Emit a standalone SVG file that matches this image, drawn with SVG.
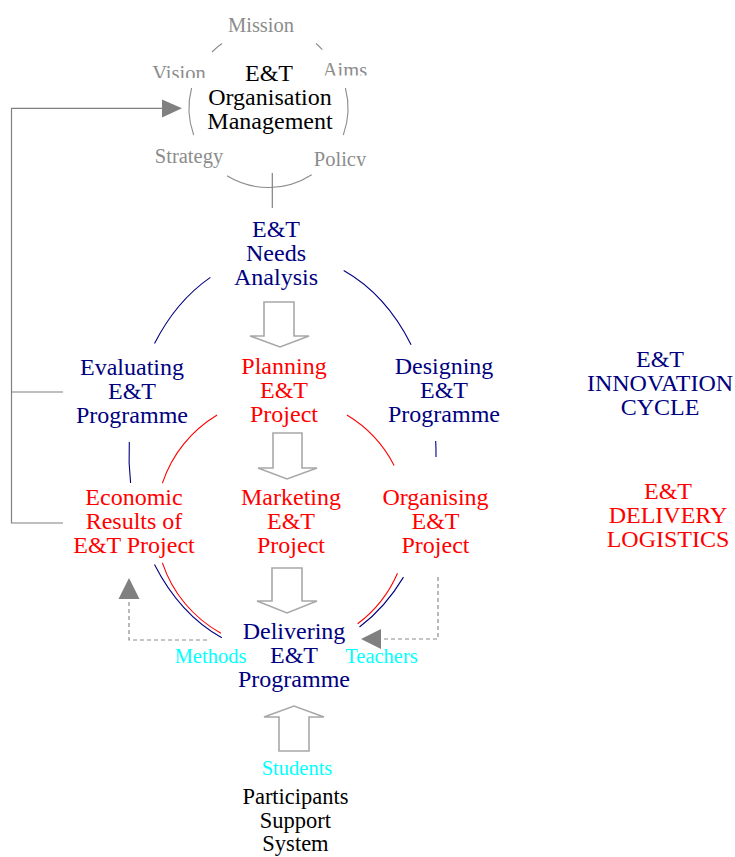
<svg xmlns="http://www.w3.org/2000/svg" width="735" height="857" viewBox="0 0 735 857" font-family="'Liberation Serif', 'Times New Roman', 'DejaVu Serif', serif">
<style>
text{text-anchor:middle}
.m{font-size:24px}
.p{font-size:22.5px}
.navy{fill:#000080}
.red{fill:#ff0000}
.blk{fill:#000000}
.g{font-size:20.5px;fill:#8c8c8c}
.c{font-size:20.5px;fill:#00ffff}
.ln{fill:none;stroke:#808080;stroke-width:1.2}
.dash{fill:none;stroke:#8c8c8c;stroke-width:1.2;stroke-dasharray:4,3}
.ah{fill:#808080}
.nv{fill:none;stroke:#000080;stroke-width:1.1}
.rd{fill:none;stroke:#ff0000;stroke-width:1.1}
.ga{fill:none;stroke:#8c8c8c;stroke-width:1.1}
.blkarr{fill:#ffffff;stroke:#a8a8a8;stroke-width:1.6}
</style>
<defs>
<clipPath id="cv"><rect x="140" y="50" width="80" height="28"/></clipPath>
<clipPath id="ca"><rect x="315" y="50" width="60" height="25.5"/></clipPath>
<clipPath id="cp"><rect x="305" y="140" width="70" height="26"/></clipPath>
</defs>

<g id="connectors">
<path class="ga" d="M212,52 A79.5,79.5 0 0,1 222,43.5"/>
<path class="ga" d="M316,43.5 A79.5,79.5 0 0,1 322.3,49.6"/>
<path class="ga" d="M193.7,135 A79.5,79.5 0 0,1 191.6,88"/>
<path class="ga" d="M345.4,88 A79.5,79.5 0 0,1 343.3,135"/>
<path class="ga" d="M227,175.8 A79.5,79.5 0 0,0 311.7,174.7"/>
<line class="ln" x1="272.3" y1="173" x2="272.3" y2="208"/>
<polyline class="ln" points="63,523 11.5,523 11.5,108.3 164,108.3"/>
<line class="ln" x1="11.5" y1="392" x2="63" y2="392"/>
<polygon class="ah" points="162,99.5 182,108.3 162,117.5"/>
<path class="nv" d="M154.5,343.6 A153.5,200 0 0,1 210.4,277.4"/>
<path class="nv" d="M343.7,270.6 A153.5,200 0 0,1 411.1,344.8"/>
<path class="nv" d="M130.6,483 A153.5,200 0 0,1 129.3,442"/>
<path class="nv" d="M435.7,441 A153.5,200 0 0,1 436,457"/>
<path class="nv" d="M221.8,637.7 A153.5,200 0 0,1 154.5,564.4"/>
<path class="nv" d="M403.5,577.1 A153.5,200 0 0,1 359.5,627"/>
<path class="rd" d="M162.4,483.2 A126,126 0 0,1 217.1,415"/>
<path class="rd" d="M346.9,415 A126,126 0 0,1 394.1,465.4"/>
<path class="rd" d="M220.9,633.2 A126,126 0 0,1 162.4,562.8"/>
<path class="rd" d="M397.5,573.2 A126,126 0 0,1 357.6,623.8"/>
<polygon class="blkarr" points="264,302 294,302 294,336 309,336 280,347 250,336 264,336"/>
<polygon class="blkarr" points="273,433 302,433 302,468 317,468 287,479 258,468 273,468"/>
<polygon class="blkarr" points="272,568 302,568 302,601 317,601 287,613 257,601 272,601"/>
<polygon class="blkarr" points="279,751 309,751 309,717 324,717 294,706 264,717 279,717"/>
<polyline class="dash" points="207,640 129,640 129,599"/>
<polygon class="ah" points="129,578 139.5,599 118.5,599"/>
<polyline class="dash" points="438,577 438,639 381,639"/>
<polygon class="ah" points="361,639 381,629 381,649"/>
</g>

<g id="org-management">
<text class="m blk" x="269" y="81">E&amp;T</text>
<text class="m blk" x="270" y="105">Organisation</text>
<text class="m blk" x="270" y="129">Management</text>
</g>
<g id="mission"><text class="g" x="261" y="31.7">Mission</text></g>
<g id="vision"><text class="g" x="179" y="79.6" clip-path="url(#cv)">Vision</text></g>
<g id="aims"><text class="g" x="345" y="76.6" clip-path="url(#ca)">Aims</text></g>
<g id="strategy"><text class="g" x="189" y="163">Strategy</text></g>
<g id="policy"><text class="g" x="340" y="165.6" clip-path="url(#cp)">Policy</text></g>

<g id="needs-analysis">
<text class="m navy" x="276" y="237">E&amp;T</text>
<text class="m navy" x="276" y="261">Needs</text>
<text class="m navy" x="276" y="285">Analysis</text>
</g>
<g id="evaluating">
<text class="m navy" x="132" y="375">Evaluating</text>
<text class="m navy" x="132" y="399">E&amp;T</text>
<text class="m navy" x="132" y="423">Programme</text>
</g>
<g id="planning">
<text class="m red" x="284" y="374">Planning</text>
<text class="m red" x="284" y="398">E&amp;T</text>
<text class="m red" x="284" y="422">Project</text>
</g>
<g id="designing">
<text class="m navy" x="444" y="374">Designing</text>
<text class="m navy" x="444" y="398">E&amp;T</text>
<text class="m navy" x="444" y="422">Programme</text>
</g>
<g id="innovation-cycle">
<text class="m navy" x="660" y="367">E&amp;T</text>
<text class="m navy" x="660" y="391">INNOVATION</text>
<text class="m navy" x="660" y="415">CYCLE</text>
</g>
<g id="economic">
<text class="m red" x="134" y="505">Economic</text>
<text class="m red" x="134" y="529">Results of</text>
<text class="m red" x="134" y="553">E&amp;T Project</text>
</g>
<g id="marketing">
<text class="m red" x="291" y="505">Marketing</text>
<text class="m red" x="291" y="529">E&amp;T</text>
<text class="m red" x="291" y="553">Project</text>
</g>
<g id="organising">
<text class="m red" x="435.5" y="505">Organising</text>
<text class="m red" x="435.5" y="529">E&amp;T</text>
<text class="m red" x="435.5" y="553">Project</text>
</g>
<g id="delivery-logistics">
<text class="m red" x="668" y="499">E&amp;T</text>
<text class="m red" x="668" y="523">DELIVERY</text>
<text class="m red" x="668" y="547">LOGISTICS</text>
</g>
<g id="delivering">
<text class="m navy" x="294" y="639">Delivering</text>
<text class="m navy" x="294" y="663">E&amp;T</text>
<text class="m navy" x="294" y="687">Programme</text>
</g>
<g id="methods"><text class="c" x="210.5" y="663">Methods</text></g>
<g id="teachers"><text class="c" x="381.5" y="663">Teachers</text></g>
<g id="students"><text class="c" x="297" y="775">Students</text></g>
<g id="participants">
<text class="p blk" x="295.5" y="804">Participants</text>
<text class="p blk" x="295.5" y="828">Support</text>
<text class="p blk" x="295.5" y="851">System</text>
</g>
</svg>
